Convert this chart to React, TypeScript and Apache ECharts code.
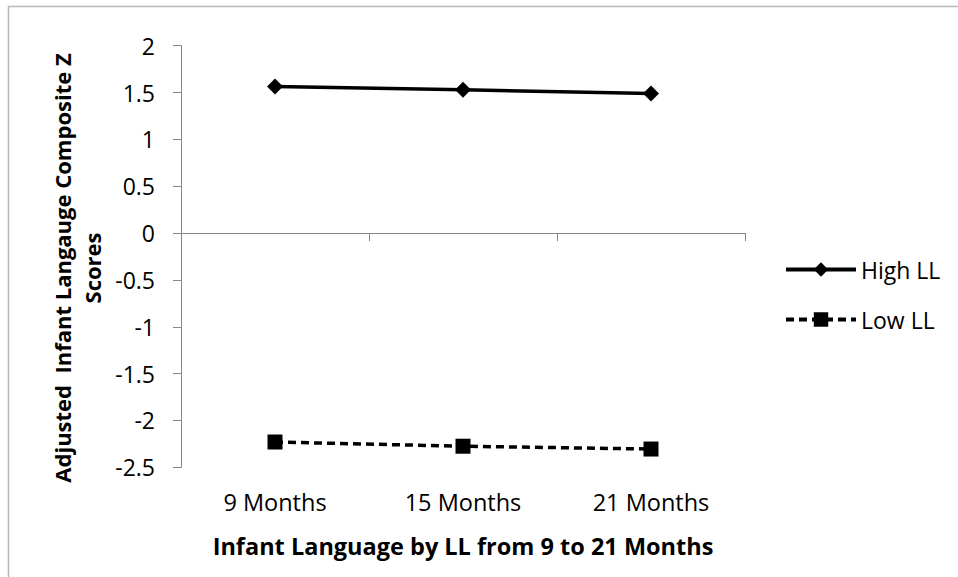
import React, { useEffect, useRef } from "react";
import * as echarts from "echarts";

const categories = ["9 Months", "15 Months", "21 Months"];
const highLL = [1.565, 1.53, 1.49];
const lowLL = [-2.23, -2.275, -2.305];
const seriesNames = ["High LL", "Low LL"];
const yTitle = "Adjusted  Infant Langauge Composite Z\nScores";
const xTitle = "Infant Language by LL from 9 to 21 Months";

const FONT = "'Open Sans', Lato, sans-serif";

export default function App() {
  const ref = useRef<HTMLDivElement>(null);
  useEffect(() => {
    if (!ref.current) return;
    const chart = echarts.init(ref.current, null, { renderer: "svg" });
    chart.setOption({
      animation: false,
      backgroundColor: "#ffffff",
      textStyle: { fontFamily: FONT },
      grid: { left: 181, right: 213, top: 45.7, bottom: 109.7, containLabel: false },
      legend: {
        orient: "vertical",
        left: 779,
        top: 253,
        itemWidth: 70,
        itemHeight: 18,
        itemGap: 27,
        data: seriesNames,
        lineStyle: { width: 4 },
        textStyle: { fontFamily: FONT, fontSize: 23, color: "#000" },
      },
      xAxis: [
        {
          type: "category",
          data: categories,
          boundaryGap: true,
          axisLine: { onZero: true, lineStyle: { color: "#868686", width: 1 } },
          axisTick: { show: true, length: 8, lineStyle: { color: "#868686" } },
          axisLabel: { show: false },
          splitLine: { show: false },
        },
        {
          type: "category",
          data: categories,
          position: "bottom",
          boundaryGap: true,
          axisLine: { show: false },
          axisTick: { show: false },
          axisLabel: { show: true, margin: 23, fontFamily: FONT, fontSize: 23.5, color: "#000" },
          name: xTitle,
          nameLocation: "middle",
          nameGap: 67,
          nameTextStyle: { fontFamily: FONT, fontSize: 23.5, fontWeight: "bold", color: "#000" },
        },
      ],
      yAxis: {
        type: "value",
        min: -2.5,
        max: 2,
        interval: 0.5,
        axisLine: { show: true, lineStyle: { color: "#868686", width: 1 } },
        axisTick: { show: true, length: 8, lineStyle: { color: "#868686" } },
        axisLabel: { margin: 26, fontFamily: FONT, fontSize: 23, color: "#000" },
        splitLine: { show: false },
      },
      graphic: [
        {
          type: "rect",
          shape: { x: 8.5, y: 6.5, width: 1000, height: 700 },
          style: { fill: "none", stroke: "#b8b8b8", lineWidth: 1.5 },
          silent: true,
        },
        {
          type: "text",
          x: 77,
          y: 268,
          rotation: Math.PI / 2,
          style: {
            text: yTitle,
            fontFamily: FONT,
            fontSize: 22,
            fontWeight: "bold",
            fill: "#000",
            align: "center",
            verticalAlign: "middle",
            lineHeight: 30,
          },
        },
      ],
      series: [
        {
          name: seriesNames[0],
          type: "line",
          xAxisIndex: 0,
          data: highLL,
          symbol: "diamond",
          symbolSize: [16, 16],
          lineStyle: { color: "#000", width: 3.5, type: "solid" },
          itemStyle: { color: "#000" },
        },
        {
          name: seriesNames[1],
          type: "line",
          xAxisIndex: 0,
          data: lowLL,
          symbol: "rect",
          symbolSize: 15,
          lineStyle: { color: "#000", width: 3.5, type: [8, 5] },
          itemStyle: { color: "#000" },
        },
      ],
    });
    return () => chart.dispose();
  }, []);
  return (
    <div
      ref={ref}
      style={{ position: "absolute", left: 0, top: 0, width: 958, height: 577 }}
    />
  );
}
